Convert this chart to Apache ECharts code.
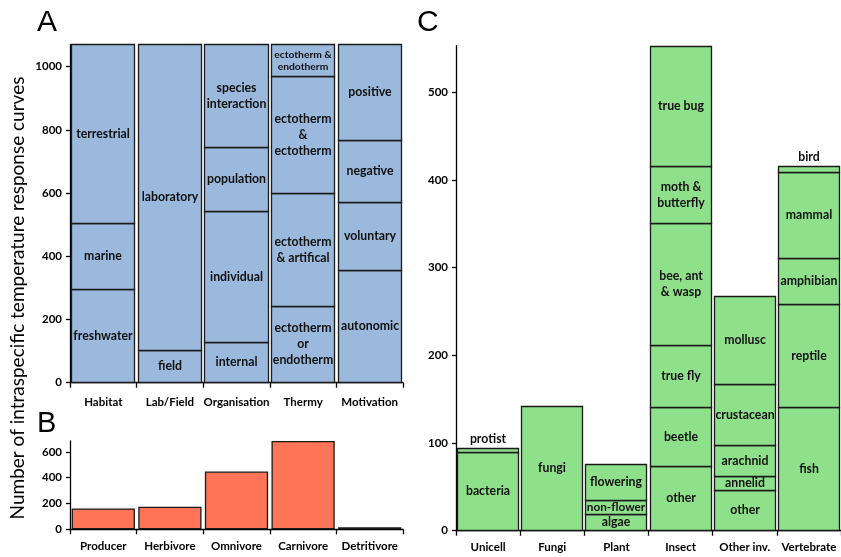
<!DOCTYPE html>
<html>
<head>
<meta charset="utf-8">
<script src="https://cdn.jsdelivr.net/npm/echarts@6/dist/echarts.min.js"></script>
<style>html,body{margin:0;padding:0;background:#fff;}#c{width:841px;height:557px;}</style>
</head>
<body>
<div id="c"></div>
<script>
// ---- Panel A ----
const aCategories = ['Habitat', 'Lab/Field', 'Organisation', 'Thermy', 'Motivation'];
const habitatLabels = ['freshwater', 'marine', 'terrestrial'];
const habitatValues = [296, 209, 565];
const labFieldLabels = ['field', 'laboratory'];
const labFieldValues = [101, 969];
const organisationLabels = ['internal', 'individual', 'population', 'species\ninteraction'];
const organisationValues = [128, 413, 203, 326];
const thermyLabels = ['ectotherm\nor\nendotherm', 'ectotherm\n& artifical', 'ectotherm\n&\nectotherm', 'ectotherm &\nendotherm'];
const thermyValues = [240, 359, 369, 102];
const motivationLabels = ['autonomic', 'voluntary', 'negative', 'positive'];
const motivationValues = [354, 217, 195, 304];
const aTicks = [0, 200, 400, 600, 800, 1000];

// ---- Panel B ----
const bCategories = ['Producer', 'Herbivore', 'Omnivore', 'Carnivore', 'Detritivore'];
const bValues = [162, 175, 448, 685, 15];
const bTicks = [0, 200, 400, 600];

// ---- Panel C ----
const cCategories = ['Unicell', 'Fungi', 'Plant', 'Insect', 'Other inv.', 'Vertebrate'];
const unicellLabels = ['bacteria', 'protist'];
const unicellValues = [89, 5];
const fungiLabels = ['fungi'];
const fungiValues = [142];
const plantLabels = ['algae', 'non-flower', 'flowering'];
const plantValues = [19, 16, 41];
const insectLabels = ['other', 'beetle', 'true fly', 'bee, ant\n& wasp', 'moth &\nbutterfly', 'true bug'];
const insectValues = [73, 68, 70, 139, 65, 137];
const otherInvLabels = ['other', 'annelid', 'arachnid', 'crustacean', 'mollusc'];
const otherInvValues = [46, 16, 35, 70, 100];
const vertebrateLabels = ['fish', 'reptile', 'amphibian', 'mammal', 'bird'];
const vertebrateValues = [140, 118, 52, 98, 7];
const cTicks = [0, 100, 200, 300, 400, 500];

const FONT = 'Lato';
const BLUE = '#9bb9dc';
const GREEN = '#8fe08b';
const ORANGE = '#fe7457';
const EDGE = '#1a1a1a';
const aStacks = [
  [habitatLabels, habitatValues],
  [labFieldLabels, labFieldValues],
  [organisationLabels, organisationValues],
  [thermyLabels, thermyValues],
  [motivationLabels, motivationValues]
];
const cStacks = [
  [unicellLabels, unicellValues],
  [fungiLabels, fungiValues],
  [plantLabels, plantValues],
  [insectLabels, insectValues],
  [otherInvLabels, otherInvValues],
  [vertebrateLabels, vertebrateValues]
];
const topLabels = {'protist': true, 'bird': true};
const smallLabels = {'ectotherm &\nendotherm': 10.3, 'non-flower': 11.8, 'crustacean': 12.3};

function crisp(v) { return Math.round(v - 0.5) + 0.5; }

function stackSeries(stacks, axisIndex, color) {
  const rows = [];
  const names = [];
  stacks.forEach(([labels, values], ci) => {
    let base = 0;
    values.forEach((v, k) => {
      rows.push([ci, base, base + v]);
      names.push(labels[k]);
      base += v;
    });
  });
  return {
    type: 'custom', xAxisIndex: axisIndex, yAxisIndex: axisIndex,
    data: rows, encode: {x: 0, y: [1, 2]},
    animation: false,
    renderItem: function (params, api) {
      const ci = api.value(0), s = api.value(1), e = api.value(2);
      const p0 = api.coord([ci, s]);
      const p1 = api.coord([ci, e]);
      const bw = api.size([1, 0])[0] * 0.95;
      const x0 = crisp(p0[0] - bw / 2), x1 = crisp(p0[0] + bw / 2);
      const yb = crisp(p0[1]), yt = crisp(p1[1]);
      const lbl = names[params.dataIndex];
      const fs = smallLabels[lbl] || 12.3;
      const lh = lbl === 'ectotherm &\nendotherm' ? 12.5 : 16;
      return {
        type: 'rect',
        shape: {x: x0, y: yt, width: x1 - x0, height: yb - yt},
        style: {fill: color, stroke: EDGE, lineWidth: 1.3},
        textContent: {
          style: {text: lbl, fill: '#111', font: 'bold ' + fs + 'px ' + FONT, align: 'center', lineHeight: lh}
        },
        textConfig: {position: topLabels[lbl] ? 'top' : 'inside', distance: 1}
      };
    }
  };
}

const axisLine = {show: true, lineStyle: {color: '#000', width: 1.3}};
const tickStyle = {show: true, length: 4, lineStyle: {color: '#000', width: 1.3}};
function yAxis(grid, max, ticks) {
  return {
    type: 'value', gridIndex: grid, min: 0, max: max,
    axisLine: axisLine,
    axisTick: Object.assign({}, tickStyle, {customValues: ticks}),
    axisLabel: {customValues: ticks, formatter: v => String(v), color: '#000', fontFamily: FONT, fontWeight: 'bold', fontSize: 11.5, margin: 8},
    splitLine: {show: false}
  };
}
function xAxis(grid, cats, margin) {
  return {
    type: 'category', gridIndex: grid, data: cats,
    axisLine: axisLine,
    axisTick: {show: true, length: 5, lineStyle: {color: '#000', width: 1.3}},
    axisLabel: {color: '#000', fontFamily: FONT, fontWeight: 'bold', fontSize: 11.5, margin: margin, interval: 0}
  };
}

const series = [
  stackSeries(aStacks, 0, BLUE),
  {
    type: 'bar', xAxisIndex: 1, yAxisIndex: 1, data: bValues, barCategoryGap: '5%',
    itemStyle: {color: ORANGE, borderColor: EDGE, borderWidth: 1.3},
    emphasis: {disabled: true}, animation: false
  },
  stackSeries(cStacks, 2, GREEN)
];

const chart = echarts.init(document.getElementById('c'), null, {renderer: 'canvas'});
chart.setOption({
  animation: false,
  grid: [
    {left: 70, top: 44.6, width: 333, height: 338.1},
    {left: 70, top: 441, width: 333, height: 88.3},
    {left: 456, top: 45.7, width: 386, height: 485}
  ],
  xAxis: [xAxis(0, aCategories, 14), xAxis(1, bCategories, 11), xAxis(2, cCategories, 11)],
  yAxis: [yAxis(0, 1070, aTicks), yAxis(1, 685, bTicks), yAxis(2, 553, cTicks)],
  series: series,
  graphic: [
    {type: 'text', left: 37, top: 8, style: {text: 'A', font: '30px "Liberation Sans"', fill: '#000'}},
    {type: 'text', left: 37, top: 409, style: {text: 'B', font: '29px "Liberation Sans"', fill: '#000'}},
    {type: 'text', left: 417, top: 8, style: {text: 'C', font: '30px "Liberation Sans"', fill: '#000'}},
    {type: 'text', x: 18, y: 298, rotation: Math.PI / 2,
     style: {text: 'Number of intraspecific temperature response curves', font: '19px Lato', fill: '#000', align: 'center', verticalAlign: 'middle'}}
  ]
});
</script>
</body>
</html>
